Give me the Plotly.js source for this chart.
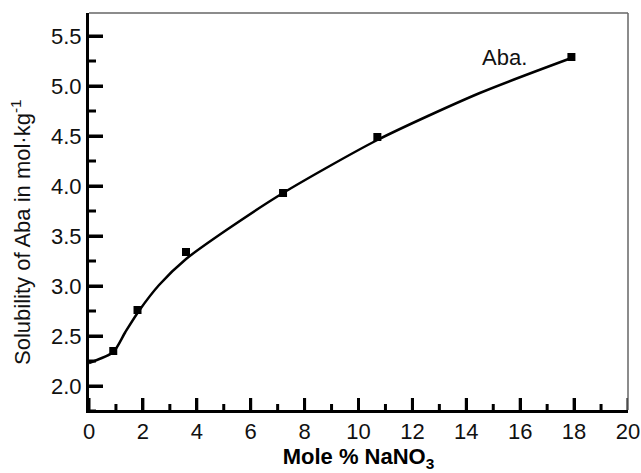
<!DOCTYPE html>
<html>
<head>
<meta charset="utf-8">
<script src="https://cdn.plot.ly/plotly-3.0.1.min.js"></script>
<style>html,body{margin:0;padding:0;background:#fff;}#chart{width:641px;height:473px;}</style>
</head>
<body>
<div id="chart"></div>
<script>
// Measured solubility points
const moleNaNO3 = [0.9, 1.8, 3.6, 7.2, 10.7, 17.9];
const solubility = [2.35, 2.76, 3.34, 3.93, 4.49, 5.29];
// Smooth fitted curve
const curveX = [0, 0.9, 1.35, 1.85, 2.6, 3.6, 5.1, 7.2, 10.7, 14.5, 17.9];
const curveY = [2.23, 2.34, 2.54, 2.75, 3.01, 3.27, 3.56, 3.93, 4.46, 4.93, 5.28];
const xTicks = [0, 2, 4, 6, 8, 10, 12, 14, 16, 18, 20];
const yTicks = [2.0, 2.5, 3.0, 3.5, 4.0, 4.5, 5.0, 5.5];
const seriesLabel = 'Aba.';

const FONT = 'Liberation Sans, Arial, sans-serif';
const W = 641, H = 473, M = {l: 89, r: 13, t: 13, b: 63};
const plotW = W - M.l - M.r, plotH = H - M.t - M.b;
const xRange = [0, 20], yRange = [1.76, 5.73];
const pxPerX = plotW / (xRange[1] - xRange[0]);
const pxPerY = plotH / (yRange[1] - yRange[0]);

// inside tick marks built from the tick arrays (major + minor halfway)
const tx = [], ty = [];
const xStep = xTicks[1] - xTicks[0], yStep = yTicks[1] - yTicks[0];
xTicks.forEach((v, i) => {
  tx.push(v, v, null); ty.push(yRange[0], yRange[0] + 12 / pxPerY, null);
  if (i < xTicks.length - 1) {
    const m = v + xStep / 2;
    tx.push(m, m, null); ty.push(yRange[0], yRange[0] + 6 / pxPerY, null);
  }
});
yTicks.forEach(v => {
  ty.push(v, v, null); tx.push(xRange[0], xRange[0] + 14 / pxPerX, null);
});
[yTicks[0] - yStep / 2].concat(yTicks.map(v => v + yStep / 2)).forEach(v => {
  ty.push(v, v, null); tx.push(xRange[0], xRange[0] + 7 / pxPerX, null);
});

const traces = [
  {x: tx, y: ty, mode: 'lines', type: 'scatter', connectgaps: false,
   line: {color: '#000', width: 3}, hoverinfo: 'skip'},
  {x: curveX, y: curveY, mode: 'lines', type: 'scatter',
   line: {color: '#000', width: 2.5, shape: 'spline', smoothing: 0.7}},
  {x: moleNaNO3, y: solubility, mode: 'markers', type: 'scatter',
   marker: {symbol: 'square', size: 8, color: '#000'}}
];

const layout = {
  width: W, height: H, showlegend: false,
  margin: M,
  xaxis: {
    range: xRange, tickvals: xTicks,
    showline: true, linecolor: '#000', linewidth: 3,
    ticks: 'inside', ticklen: 12, tickwidth: 3, tickcolor: '#000',
    showgrid: false, zeroline: false,
    tickfont: {family: FONT, size: 22, color: '#111'},
    title: {text: 'Mole % NaNO<sub>3</sub>', font: {family: FONT, size: 22, color: '#000', weight: 'bold'}, standoff: 2}
  },
  yaxis: {
    range: yRange, tickvals: yTicks, tickformat: '.1f',
    showline: true, linecolor: '#000', linewidth: 3,
    ticks: 'inside', ticklen: 14, tickwidth: 3, tickcolor: '#000',
    showgrid: false, zeroline: false,
    tickfont: {family: FONT, size: 22, color: '#111'}
  },
  shapes: [
    {type: 'line', xref: 'paper', yref: 'paper', x0: 0, x1: 1, y0: 1, y1: 1, line: {color: '#666', width: 1.5}},
    {type: 'line', xref: 'paper', yref: 'paper', x0: 1, x1: 1, y0: 0, y1: 1, line: {color: '#666', width: 1.5}}
  ],
  annotations: [
    {x: 15.4, y: 5.29, xref: 'x', yref: 'y', text: seriesLabel, showarrow: false,
     font: {family: FONT, size: 22, color: '#111'}},
    {x: (21 - M.l) / plotW, y: (H - M.b - 232) / plotH, xref: 'paper', yref: 'paper',
     text: 'Solubility of Aba in mol·kg<sup>-1</sup>',
     showarrow: false, textangle: -90, xanchor: 'center', yanchor: 'middle',
     font: {family: FONT, size: 22, color: '#111'}}
  ]
};

Plotly.newPlot('chart', traces, layout, {displayModeBar: false});
</script>
</body>
</html>
